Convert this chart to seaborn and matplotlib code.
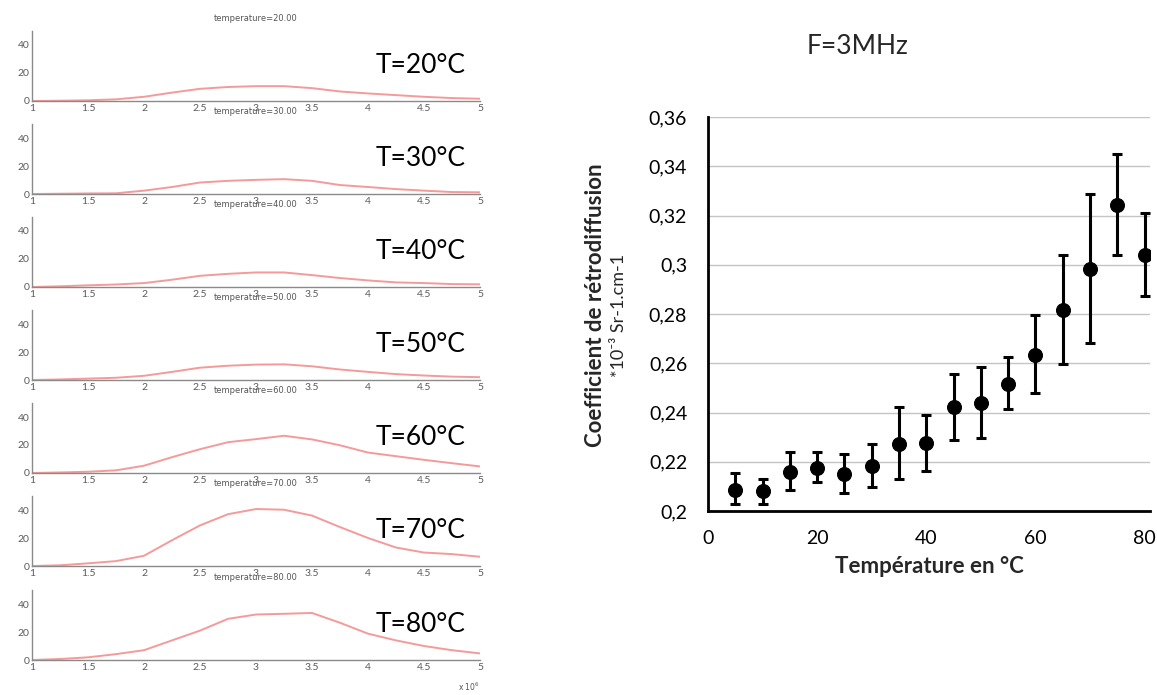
import numpy as np
import pandas as pd
import matplotlib
matplotlib.use('Agg')
import matplotlib.pyplot as plt
import seaborn as sns

# ---- data: left panels (spectra) ----
freq = [1.0, 1.25, 1.5, 1.75, 2.0, 2.25, 2.5, 2.75, 3.0, 3.25, 3.5, 3.75, 4.0, 4.25, 4.5, 4.75, 5.0]
temps_panel = [20, 30, 40, 50, 60, 70, 80]
amp_20 = [0, 0.2, 0.5, 1.2, 3, 6, 8.7, 10, 10.6, 10.6, 9.2, 6.8, 5.4, 4.2, 3, 2.1, 1.6]
amp_30 = [0, 0.2, 0.4, 0.5, 2.4, 5, 8.2, 9.4, 10.1, 10.6, 9.4, 6.4, 5, 3.5, 2.4, 1.4, 1.2]
amp_40 = [0, 0.5, 1.2, 1.8, 2.8, 5.2, 8, 9.4, 10.4, 10.4, 8.5, 6.4, 4.7, 3.3, 2.8, 2.1, 1.9]
amp_50 = [0, 0.4, 1, 1.6, 3, 5.8, 8.8, 10.2, 11, 11.2, 9.8, 7.5, 5.8, 4.2, 3.2, 2.4, 2]
amp_60 = [0, 0.4, 0.9, 1.9, 5.2, 11.3, 17, 22, 24.2, 26.6, 24, 19.8, 14.6, 12, 9.4, 7, 4.7]
amp_70 = [0, 0.5, 1.9, 3.5, 7.3, 18.4, 29, 37, 40.7, 40.2, 36, 27.8, 20, 13.2, 9.6, 8.5, 6.6]
amp_80 = [0, 0.7, 1.9, 4.2, 7, 14, 21, 29.4, 32.5, 33, 33.6, 26.6, 18.8, 14, 10, 7, 4.7]
amps = [amp_20, amp_30, amp_40, amp_50, amp_60, amp_70, amp_80]

# ---- data: right panel ----
temperature = [5, 10, 15, 20, 25, 30, 35, 40, 45, 50, 55, 60, 65, 70, 75, 80]
coef = [0.2087, 0.208, 0.216, 0.2176, 0.2152, 0.2182, 0.2272, 0.2275, 0.2423, 0.2438,
        0.2514, 0.2634, 0.2818, 0.2984, 0.3242, 0.3041]
err_low = [0.2027, 0.2029, 0.2084, 0.2117, 0.2073, 0.2098, 0.2129, 0.2163, 0.2289, 0.2297,
           0.2414, 0.2478, 0.2596, 0.2682, 0.304, 0.2872]
err_high = [0.2153, 0.213, 0.224, 0.224, 0.2233, 0.2272, 0.2422, 0.239, 0.2557, 0.2584,
            0.2624, 0.2797, 0.304, 0.3289, 0.3448, 0.3212]

sns.set_style('white')
plt.rcParams['font.family'] = ['Lato', 'DejaVu Sans']

W, H = 1157, 695
fig = plt.figure(figsize=(W / 100, H / 100), dpi=100)

# left stack of small panels
baselines = [101, 194, 287, 380, 473, 566, 660]
curve_color = '#f49a9a'
for i, (t, amp, b) in enumerate(zip(temps_panel, amps, baselines)):
    ax = fig.add_axes([32 / W, 1 - b / H, 448 / W, 70 / H])
    df = pd.DataFrame({'f': freq, 'a': amp})
    sns.lineplot(data=df, x='f', y='a', ax=ax, color=curve_color, lw=1.4)
    ax.set_xlim(1, 5)
    ax.set_ylim(0, 50)
    ax.set_xticks(np.arange(1, 5.01, 0.5))
    ax.set_xticklabels(['1', '1.5', '2', '2.5', '3', '3.5', '4', '4.5', '5'])
    ax.set_yticks([0, 20, 40])
    ax.tick_params(direction='in', length=3, width=0.8, labelsize=7.5,
                   colors='#7a7a7a', labelcolor='#5a5a5a', pad=2)
    for s in ['top', 'right']:
        ax.spines[s].set_visible(False)
    for s in ['left', 'bottom']:
        ax.spines[s].set_color('#8a8a8a')
        ax.spines[s].set_linewidth(1.0)
    ax.set_xlabel('')
    ax.set_ylabel('')
    ax.set_title('temperature=%d.00' % t, fontsize=6, color='#555555', pad=7,
                 family='DejaVu Sans')
    ax.text(0.766, 0.51, 'T=%d°C' % t, transform=ax.transAxes, fontsize=19,
            color='black', ha='left', va='center')
    ax.patch.set_alpha(0)
    if i == len(temps_panel) - 1:
        ax.text(1.0, -0.38, 'x 10$^6$', transform=ax.transAxes, fontsize=5.5,
                color='#555555', ha='right', va='center', family='DejaVu Sans')

# right chart
ax2 = fig.add_axes([708 / W, 1 - 511 / H, 442 / W, 394 / H])
res = pd.DataFrame({'T': temperature, 'c': coef, 'lo': err_low, 'hi': err_high})
yerr = np.vstack([res['c'] - res['lo'], res['hi'] - res['c']])
ax2.errorbar(res['T'], res['c'], yerr=yerr, fmt='none', ecolor='black',
             elinewidth=2.2, capsize=3.5, capthick=2.2, zorder=3)
sns.scatterplot(data=res, x='T', y='c', ax=ax2, color='black', s=100,
                edgecolor='black', zorder=4)
ax2.set_xlim(0, 81)
ax2.set_ylim(0.2, 0.36)
ax2.set_xticks([0, 20, 40, 60, 80])
ax2.set_yticks(np.arange(0.2, 0.3601, 0.02))
ax2.set_yticklabels(['0,2', '0,22', '0,24', '0,26', '0,28', '0,3', '0,32', '0,34', '0,36'])
ax2.yaxis.grid(True, color='#c4c4c4', lw=1.0)
ax2.xaxis.grid(False)
ax2.set_axisbelow(True)
for s in ['top', 'right']:
    ax2.spines[s].set_visible(False)
for s in ['left', 'bottom']:
    ax2.spines[s].set_color('black')
    ax2.spines[s].set_linewidth(2.0)
ax2.tick_params(axis='both', direction='out', length=5, width=2, labelsize=14,
                colors='black')
ax2.tick_params(axis='y', pad=10)
ax2.tick_params(axis='x', pad=9)
ax2.set_xlabel('Température en °C', fontsize=16, fontweight='bold', labelpad=6)
ax2.set_ylabel('')

fig.text(595 / W, 1 - 305 / H, 'Coefficient de rétrodiffusion', rotation=90,
         fontsize=16, fontweight='bold', ha='center', va='center')
fig.text(619 / W, 1 - 315 / H, '*10⁻³ Sr-1.cm-1', rotation=90,
         fontsize=13, ha='center', va='center')
fig.text(858 / W, 1 - 47 / H, 'F=3MHz', fontsize=19, ha='center', va='center')

fig.savefig('out.png', dpi=100)
